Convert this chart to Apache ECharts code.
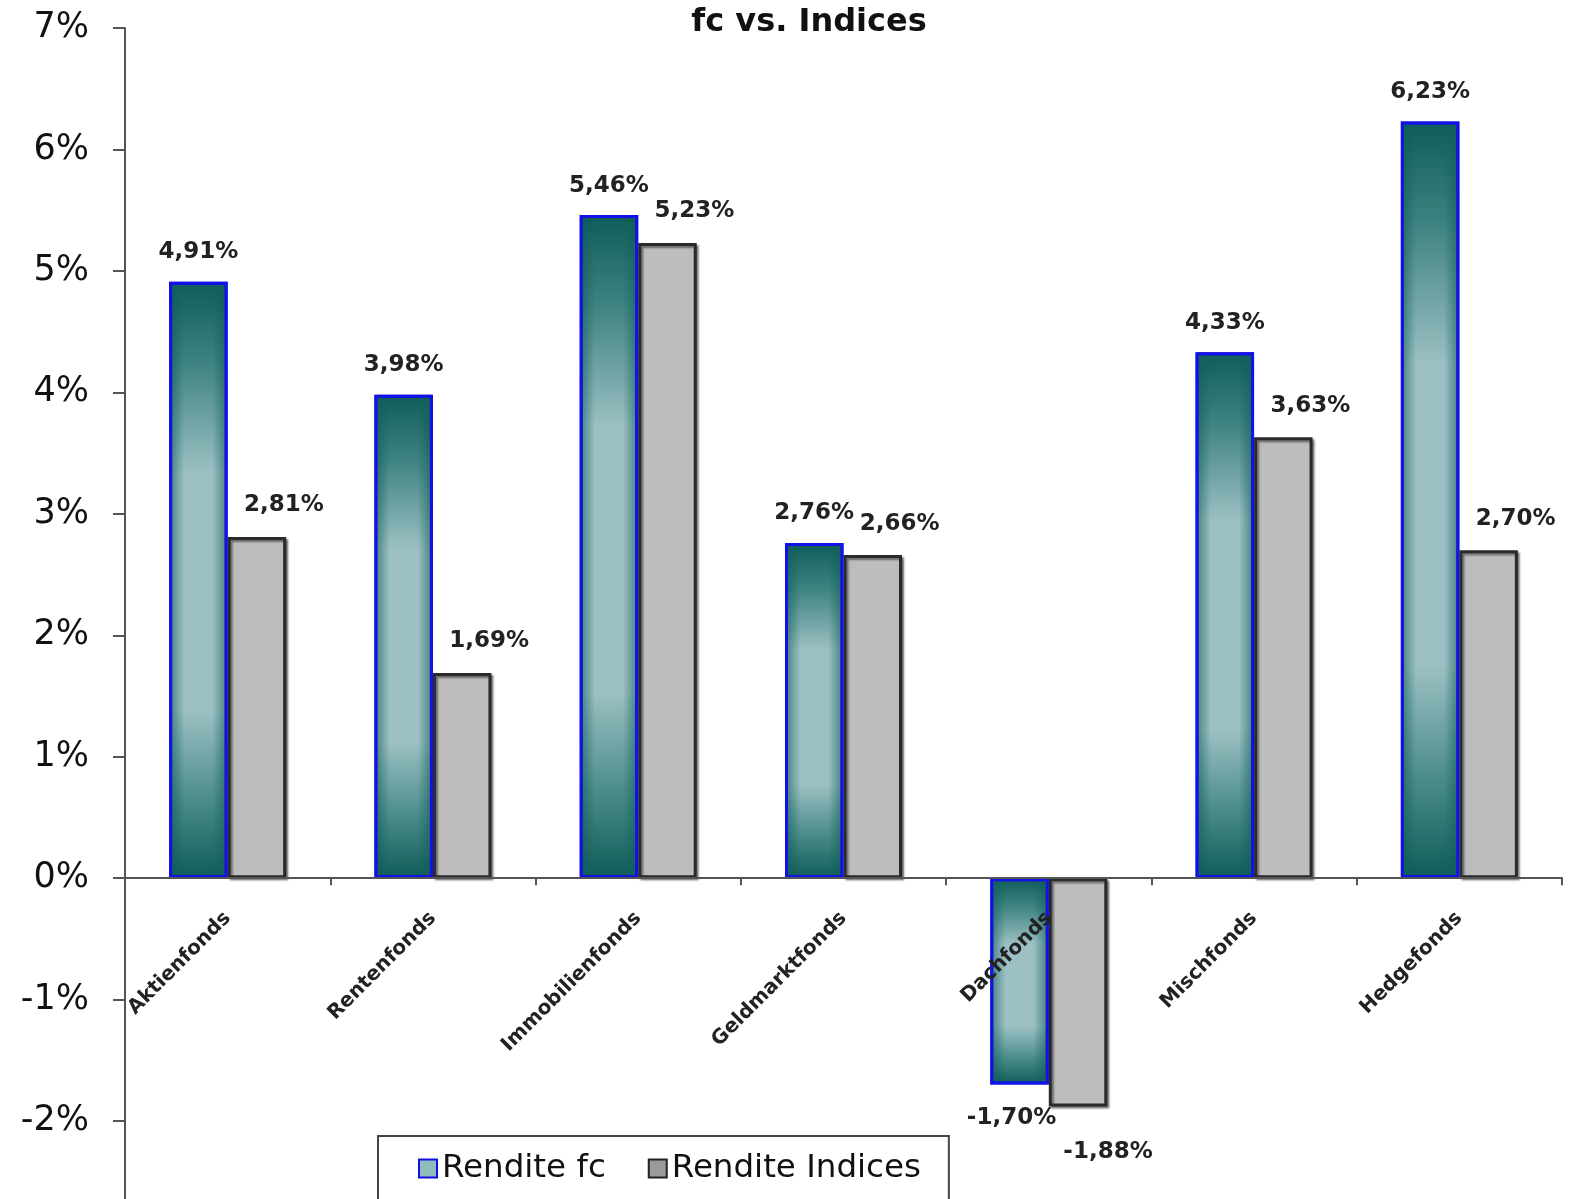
<!DOCTYPE html>
<html>
<head>
<meta charset="utf-8">
<script src="https://cdn.jsdelivr.net/npm/echarts@6/dist/echarts.min.js"></script>
<style>
  html, body { margin: 0; padding: 0; background: #fff; }
  #chart { width: 1576px; height: 1199px; }
</style>
</head>
<body>
<div id="chart"></div>
<script>
// Fund categories and returns (percent)
const categories = ['Aktienfonds', 'Rentenfonds', 'Immobilienfonds', 'Geldmarktfonds', 'Dachfonds', 'Mischfonds', 'Hedgefonds'];
const renditeFc = [4.91, 3.98, 5.46, 2.76, -1.70, 4.33, 6.23];
const renditeIndices = [2.81, 1.69, 5.23, 2.66, -1.88, 3.63, 2.70];
const seriesNames = ['Rendite fc', 'Rendite Indices'];
const titleText = 'fc vs. Indices';

const FONT = '"DejaVu Sans", Verdana, sans-serif';
const Y_MIN = -3, Y_MAX = 7;
const GRID_TOP = 28, GRID_BOTTOM = -43.5, CHART_H = 1199;
const BAR_CATEGORY_GAP = '43%';
const FC_BORDER = '#1212e8';

const fmt = v => v.toFixed(2).replace('.', ',') + '%';

// teal bar fill: dark at both ends, light in the middle
const tealFill = new echarts.graphic.LinearGradient(0, 0, 0, 1, [
  { offset: 0, color: '#0f5c58' },
  { offset: 0.13, color: '#3b817f' },
  { offset: 0.32, color: '#9cc0c3' },
  { offset: 0.72, color: '#9cc0c3' },
  { offset: 0.87, color: '#4a8c8a' },
  { offset: 1, color: '#0f5c58' }
]);

// side shading laid over the teal bars for a rounded look
const tealSides = new echarts.graphic.LinearGradient(0, 0, 1, 0, [
  { offset: 0, color: 'rgba(15,92,88,0.65)' },
  { offset: 0.12, color: 'rgba(15,92,88,0.35)' },
  { offset: 0.26, color: 'rgba(15,92,88,0)' },
  { offset: 0.74, color: 'rgba(15,92,88,0)' },
  { offset: 0.88, color: 'rgba(15,92,88,0.35)' },
  { offset: 1, color: 'rgba(15,92,88,0.65)' }
]);

function labelled(values, opts) {
  return values.map(v => ({
    value: v,
    label: v < 0
      ? { position: 'bottom', distance: opts.negDist, offset: opts.negOffset }
      : { position: 'top', distance: opts.posDist, offset: opts.posOffset }
  }));
}

const labelStyle = {
  show: true,
  formatter: p => fmt(p.value),
  fontFamily: FONT,
  fontWeight: 'bold',
  fontSize: 23,
  color: '#222'
};

// the category axis sits at the bottom edge of the grid and is shifted up to the zero line
const plotH = CHART_H - GRID_TOP - GRID_BOTTOM;
const zeroShift = -plotH * (0 - Y_MIN) / (Y_MAX - Y_MIN);

const chart = echarts.init(document.getElementById('chart'), null, { renderer: 'canvas' });

chart.setOption({
  backgroundColor: '#ffffff',
  animation: false,
  title: {
    text: titleText,
    left: 804,
    textAlign: 'center',
    top: 2,
    textStyle: { fontFamily: FONT, fontWeight: 'bold', fontSize: 32, color: '#111' }
  },
  legend: {
    left: 378,
    top: 1136,
    padding: [16, 28, 40, 40],
    itemWidth: 18,
    itemHeight: 18,
    itemGap: 42,
    backgroundColor: '#fff',
    borderColor: '#444',
    borderWidth: 2,
    borderRadius: 0,
    textStyle: { fontFamily: FONT, fontSize: 32.5, color: '#111' },
    data: [
      { name: seriesNames[0], icon: 'rect', itemStyle: { color: '#8fbcbc', borderColor: FC_BORDER, borderWidth: 2 } },
      { name: seriesNames[1], icon: 'rect', itemStyle: { color: '#9a9a9a', borderColor: '#222', borderWidth: 2 } }
    ]
  },
  grid: {
    left: 125, right: 14, top: GRID_TOP, bottom: GRID_BOTTOM,
    containLabel: false,
    outerBoundsMode: 'none'
  },
  xAxis: [
    {
      type: 'category',
      data: categories,
      position: 'bottom',
      offset: zeroShift,
      z: 10,
      axisLine: { onZero: false, lineStyle: { color: '#555', width: 2 } },
      axisTick: { show: true, length: 7, interval: 0, lineStyle: { color: '#555', width: 2 } },
      axisLabel: {
        interval: 0,
        rotate: 45,
        margin: 37,
        fontFamily: FONT,
        fontWeight: 'bold',
        fontSize: 20,
        color: '#222'
      }
    },
    {
      // same categories, carries the shading layer only
      type: 'category',
      data: categories,
      show: false
    }
  ],
  yAxis: {
    type: 'value',
    min: Y_MIN,
    max: Y_MAX,
    interval: 1,
    splitLine: { show: false },
    axisLine: { show: true, lineStyle: { color: '#555', width: 2 } },
    axisTick: { show: true, length: 12, lineStyle: { color: '#555', width: 2 } },
    axisLabel: {
      margin: 36,
      formatter: '{value}%',
      fontFamily: FONT,
      fontSize: 35,
      color: '#111'
    }
  },
  series: [
    {
      name: seriesNames[0],
      type: 'bar',
      barGap: '0%',
      barCategoryGap: BAR_CATEGORY_GAP,
      data: labelled(renditeFc, { posDist: 18, posOffset: [0, 0], negDist: 22, negOffset: [-8, 0] }),
      itemStyle: { color: tealFill, borderColor: FC_BORDER, borderWidth: 3 },
      label: labelStyle
    },
    {
      name: seriesNames[1],
      type: 'bar',
      data: labelled(renditeIndices, { posDist: 20, posOffset: [27, 0], negDist: 34, negOffset: [30, 0] }),
      itemStyle: {
        color: '#bdbdbd',
        borderColor: '#2a2a2a',
        borderWidth: 3,
        shadowColor: 'rgba(0,0,0,0.45)',
        shadowOffsetX: 2,
        shadowOffsetY: 2,
        shadowBlur: 2
      },
      label: labelStyle
    },
    {
      name: 'fc-sides',
      type: 'bar',
      xAxisIndex: 1,
      silent: true,
      barGap: '0%',
      barCategoryGap: BAR_CATEGORY_GAP,
      data: renditeFc,
      itemStyle: { color: tealSides, borderColor: FC_BORDER, borderWidth: 3 },
      z: 3
    },
    {
      name: 'indices-slot',
      type: 'bar',
      xAxisIndex: 1,
      silent: true,
      data: renditeIndices,
      itemStyle: { color: 'rgba(0,0,0,0)' },
      z: 1
    }
  ]
});
</script>
</body>
</html>
